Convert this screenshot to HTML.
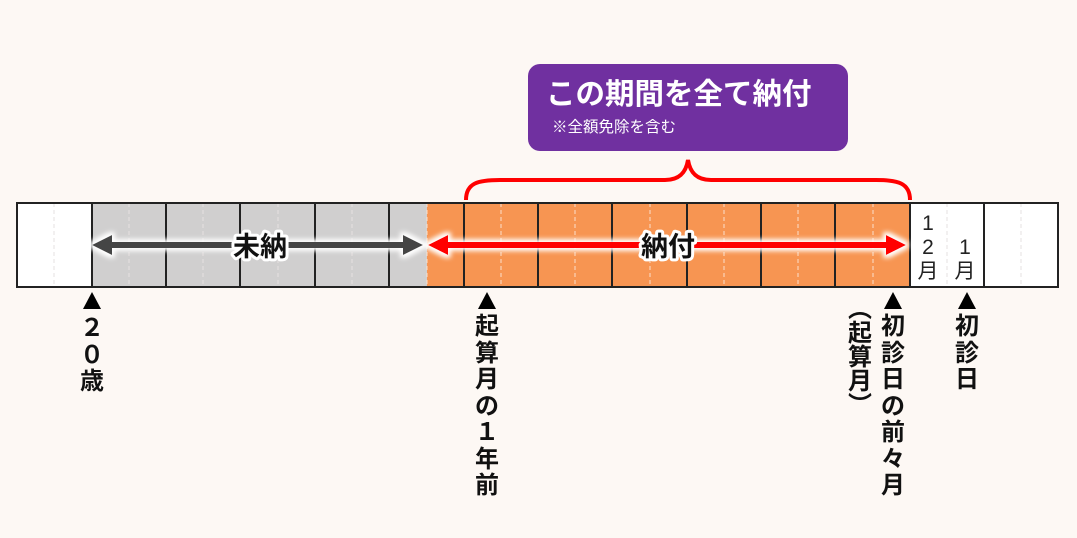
<!DOCTYPE html>
<html><head><meta charset="utf-8"><style>
body{margin:0;width:1077px;height:538px;background:#fdf8f4;position:relative;overflow:hidden;font-family:"Liberation Sans","Noto Sans CJK JP",sans-serif}
.v{position:absolute;font-weight:bold;font-size:24px;line-height:26.5px;text-align:center;width:30px;color:#111}
.tri{position:absolute;width:0;height:0;border-left:9px solid transparent;border-right:9px solid transparent;border-bottom:17px solid #000}
</style></head><body>
<svg width="1077" height="538" style="position:absolute;left:0;top:0">
<defs><filter id="g" x="-5%" y="-100%" width="110%" height="300%"><feMorphology operator="dilate" radius="3" in="SourceAlpha" result="d"/><feGaussianBlur in="d" stdDeviation="2.5" result="b"/><feFlood flood-color="#fff"/><feComposite in2="b" operator="in"/><feMerge><feMergeNode/><feMergeNode in="SourceGraphic"/></feMerge></filter></defs>
<rect x="17" y="203" width="1041" height="84" fill="#fff"/>
<rect x="92" y="203" width="335" height="84" fill="#d0cfcf"/>
<rect x="427" y="203" width="483" height="84" fill="#f79552"/>
<g stroke="#e6e0e0" stroke-dasharray="4,3" stroke-width="1">
<line x1="54" y1="203" x2="54" y2="287"/><line x1="129" y1="203" x2="129" y2="287"/><line x1="203" y1="203" x2="203" y2="287"/><line x1="278" y1="203" x2="278" y2="287"/><line x1="352" y1="203" x2="352" y2="287"/>
<line x1="947" y1="203" x2="947" y2="287"/><line x1="1021" y1="203" x2="1021" y2="287"/>
</g>
<g stroke="#fbe0cc" stroke-dasharray="4,3" stroke-width="1">
<line x1="427" y1="203" x2="427" y2="287"/><line x1="501" y1="203" x2="501" y2="287"/><line x1="575" y1="203" x2="575" y2="287"/><line x1="650" y1="203" x2="650" y2="287"/><line x1="724" y1="203" x2="724" y2="287"/><line x1="798" y1="203" x2="798" y2="287"/><line x1="873" y1="203" x2="873" y2="287"/>
</g>
<g stroke="#222" stroke-width="2">
<line x1="92" y1="203" x2="92" y2="287"/><line x1="166" y1="203" x2="166" y2="287"/><line x1="240" y1="203" x2="240" y2="287"/><line x1="315" y1="203" x2="315" y2="287"/><line x1="389" y1="203" x2="389" y2="287"/><line x1="464" y1="203" x2="464" y2="287"/><line x1="538" y1="203" x2="538" y2="287"/><line x1="612" y1="203" x2="612" y2="287"/><line x1="687" y1="203" x2="687" y2="287"/><line x1="761" y1="203" x2="761" y2="287"/><line x1="835" y1="203" x2="835" y2="287"/><line x1="910" y1="203" x2="910" y2="287"/><line x1="984" y1="203" x2="984" y2="287"/>
</g>
<rect x="17" y="203" width="1041" height="84" fill="none" stroke="#222" stroke-width="2"/>
<g filter="url(#g)">
<line x1="108" y1="245" x2="408" y2="245" stroke="#444" stroke-width="6"/>
<polygon points="92,245 112,235 112,255" fill="#444"/>
<polygon points="423,245 403,235 403,255" fill="#444"/>
<line x1="443" y1="245" x2="890" y2="245" stroke="#f00" stroke-width="6"/>
<polygon points="428,245 448,235 448,255" fill="#f00"/>
<polygon points="906,245 886,235 886,255" fill="#f00"/>
</g>
<text x="260" y="256" text-anchor="middle" font-size="27" font-weight="bold" font-family="Liberation Sans,Noto Sans CJK JP,sans-serif" stroke="#fff" stroke-width="6" stroke-linejoin="round">未納</text>
<text x="260" y="256" text-anchor="middle" font-size="27" font-weight="bold" font-family="Liberation Sans,Noto Sans CJK JP,sans-serif" fill="#111">未納</text>
<text x="668" y="256" text-anchor="middle" font-size="27" font-weight="bold" font-family="Liberation Sans,Noto Sans CJK JP,sans-serif" stroke="#fff" stroke-width="6" stroke-linejoin="round">納付</text>
<text x="668" y="256" text-anchor="middle" font-size="27" font-weight="bold" font-family="Liberation Sans,Noto Sans CJK JP,sans-serif" fill="#111">納付</text>
<path d="M466,200 C466,183 478,180 500,180 L665,180 C680,180 686,172 688,160 C690,172 696,180 711,180 L876,180 C898,180 910,183 910,200" fill="none" stroke="#f00" stroke-width="4"/>
<rect x="528" y="64" width="320" height="87" rx="12" fill="#7030a0"/>
<text x="546" y="104" font-size="29.5" font-weight="bold" fill="#fff" font-family="Liberation Sans,Noto Sans CJK JP,sans-serif">この期間を全て納付</text>
<text x="552" y="132" font-size="15.5" fill="#fff" font-family="Liberation Sans,Noto Sans CJK JP,sans-serif">※全額免除を含む</text>
<g font-size="21" fill="#222" font-family="Liberation Sans,Noto Sans CJK JP,sans-serif" text-anchor="middle">
<text x="928" y="230">1</text><text x="928" y="254">2</text><text x="928" y="278">月</text>
<text x="965" y="254">1</text><text x="965" y="278">月</text>
</g>
</svg>
<div class="tri" style="left:83px;top:292px"></div>
<div class="tri" style="left:478px;top:292px"></div>
<div class="tri" style="left:884px;top:292px"></div>
<div class="tri" style="left:958px;top:292px"></div>
<div class="v" style="left:77px;top:316px">２<br>０<br>歳</div>
<div class="v" style="left:472px;top:314px">起<br>算<br>月<br>の<br>１<br>年<br>前</div>
<div class="v" style="left:878px;top:314px">初<br>診<br>日<br>の<br>前<br>々<br>月</div>
<div class="v" style="left:952px;top:314px">初<br>診<br>日</div>
<div class="v" style="left:845px;top:298px;line-height:24px">︵<br>起<br>算<br>月<br>︶</div>
</body></html>
